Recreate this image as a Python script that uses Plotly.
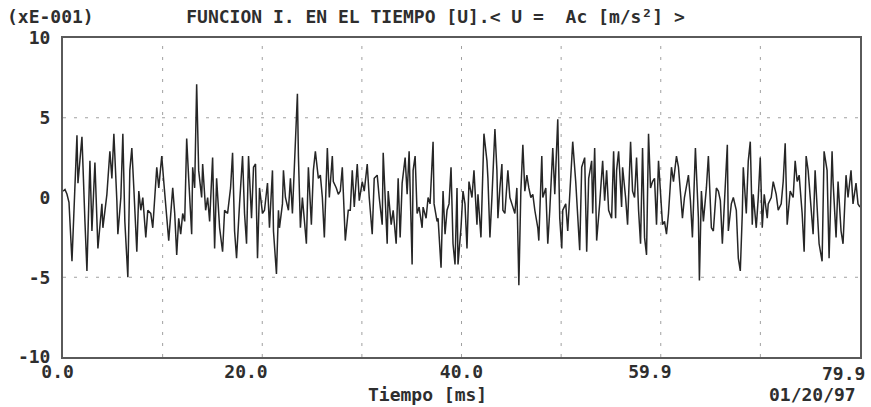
import plotly.graph_objects as go

# time in ms and amplitude (units of 1E-01 m/s^2)
t_ms = [0.0, 0.2, 0.4, 0.6, 0.9, 1.4, 1.5, 1.9, 2.2, 2.4, 2.7, 2.9, 3.2, 3.5, 3.9, 4.0, 4.4, 4.7, 4.9, 5.1,
        5.4, 5.5, 5.8, 6.0, 6.2, 6.5, 6.7, 6.9, 7.1, 7.4, 7.6, 7.8, 8.0, 8.3, 8.5, 8.8, 9.0, 9.4, 9.6, 9.9,
        10.1, 10.4, 10.6, 11.0, 11.2, 11.4, 11.6, 11.8, 12.0, 12.2, 12.4, 12.6, 12.9, 13.0, 13.2, 13.4, 13.6, 13.9, 14.0, 14.3,
        14.5, 14.7, 15.0, 15.2, 15.4, 15.7, 16.0, 16.2, 16.5, 16.8, 17.0, 17.2, 17.4, 17.7, 18.0, 18.2, 18.4, 18.6, 18.9, 19.1,
        19.3, 19.5, 19.7, 20.0, 20.2, 20.5, 20.7, 21.0, 21.1, 21.4, 21.6, 21.7, 22.0, 22.1, 22.3, 22.6, 22.8, 23.0, 23.2, 23.5,
        23.6, 23.8, 24.0, 24.2, 24.4, 24.6, 24.9, 25.1, 25.3, 25.6, 25.8, 26.0, 26.2, 26.5, 26.7, 27.0, 27.1, 27.4, 27.6, 27.8,
        28.0, 28.3, 28.6, 28.8, 29.0, 29.2, 29.5, 29.7, 30.0, 30.2, 30.5, 30.7, 31.0, 31.2, 31.5, 31.7, 32.0, 32.1, 32.3, 32.5,
        32.6, 32.9, 33.1, 33.4, 33.6, 33.8, 34.0, 34.3, 34.5, 34.7, 35.0, 35.1, 35.3, 35.5, 35.7, 36.0, 36.1, 36.4, 36.6, 36.8,
        37.1, 37.2, 37.5, 37.6, 37.9, 38.1, 38.3, 38.5, 38.7, 38.9, 39.1, 39.3, 39.5, 39.6, 39.9, 40.1, 40.3, 40.5, 40.7, 41.0,
        41.2, 41.5, 41.6, 41.9, 42.2, 42.5, 42.6, 42.8, 43.0, 43.3, 43.5, 43.6, 43.8, 44.0, 44.1, 44.3, 44.6, 44.8, 45.0, 45.3,
        45.5, 45.7, 45.9, 46.1, 46.3, 46.5, 46.7, 46.9, 47.1, 47.3, 47.6, 47.7, 48.0, 48.1, 48.4, 48.6, 48.8, 49.0, 49.1, 49.3,
        49.6, 49.8, 50.0, 50.1, 50.4, 50.6, 50.9, 51.1, 51.4, 51.6, 51.8, 52.0, 52.3, 52.5, 52.7, 53.0, 53.1, 53.3, 53.5, 53.8,
        54.1, 54.3, 54.5, 54.7, 55.0, 55.2, 55.4, 55.5, 55.7, 56.0, 56.1, 56.4, 56.6, 56.9, 57.1, 57.3, 57.5, 57.7, 57.9, 58.1,
        58.3, 58.5, 58.7, 58.9, 59.1, 59.3, 59.5, 59.7, 60.0, 60.1, 60.3, 60.5, 60.7, 61.0, 61.2, 61.5, 61.7, 61.9, 62.1, 62.3,
        62.6, 62.7, 62.9, 63.1, 63.4, 63.7, 63.8, 64.0, 64.2, 64.5, 64.7, 65.0, 65.2, 65.5, 65.7, 65.9, 66.1, 66.3, 66.6, 66.7,
        67.0, 67.2, 67.5, 67.7, 67.9, 68.1, 68.2, 68.5, 68.7, 68.9, 69.1, 69.2, 69.5, 69.7, 69.9, 70.1, 70.3, 70.6, 70.7, 71.0,
        71.2, 71.5, 71.7, 72.0, 72.2, 72.4, 72.6, 72.9, 73.2, 73.4, 73.6, 73.8, 74.1, 74.3, 74.5, 74.7, 75.0, 75.2, 75.4, 75.6,
        75.8, 76.1, 76.3, 76.6, 76.8, 77.1, 77.2, 77.5, 77.7, 78.0, 78.2, 78.5, 78.7, 79.0, 79.2, 79.5, 79.7, 79.9]

amp = [0.4, 0.5, 0.2, -0.3, -4.0, 3.9, 0.9, 3.8, -1.5, -4.6, 2.3, -2.1, 2.2, -3.2, -0.4, -1.9, 0.2, 2.9, 1.2, 4.0,
       -0.2, -2.3, 0.0, 4.0, -1.5, -5.0, 1.7, 3.1, 0.6, -3.4, 0.4, -0.8, 0.0, -2.5, -0.8, -1.0, -1.9, 1.9, 0.6, 2.6,
       1.0, -1.0, -2.7, 0.6, -1.0, -3.6, -1.3, -2.3, -1.0, -1.5, 3.7, 1.2, -2.3, 1.9, 0.6, 7.1, 1.7, 0.0, 2.1, -0.8,
       0.0, -1.5, 2.5, -3.2, 1.2, -1.9, -3.4, -0.8, -1.0, 0.6, 2.8, -2.1, -3.8, -0.4, 2.6, -1.0, -2.9, 2.6, -1.3, 1.9,
       2.1, -3.8, 0.6, -1.0, -0.8, 0.9, -1.9, 1.7, -2.1, -4.8, -0.8, -1.9, -0.4, 1.7, 0.0, -0.8, 1.2, -1.0, 2.5, 6.5,
       2.6, -1.9, 0.0, -1.3, -2.9, 1.9, -1.7, 1.7, 2.9, 1.2, 1.4, 0.0, -2.5, 3.1, 0.0, 2.6, 1.0, 0.6, 0.2, 0.4,
       1.9, -2.7, -0.8, -0.8, 1.7, -0.6, 2.1, -0.2, 1.0, 0.4, 2.1, 0.0, -2.3, 1.2, 1.4, 0.0, -1.7, 2.8, -0.4, -2.9,
       0.4, -1.7, -0.8, -2.9, 1.2, -2.5, 0.9, 2.5, 0.2, 2.9, -4.2, 1.7, 2.6, -1.0, -0.6, -1.9, -0.6, -1.3, 0.0, -0.4,
       3.5, -0.4, -1.5, -1.3, -4.4, 0.4, -2.3, -0.8, -0.4, 1.9, -2.9, -4.2, 0.6, -4.2, -1.9, 0.4, -0.4, -3.2, 1.0, 0.0,
       1.7, -1.7, 0.2, -2.5, 4.0, 2.3, 1.2, -2.5, 0.0, 4.3, 1.7, -1.3, 0.6, 2.1, -0.8, -1.0, 1.7, 0.0, -0.4, -1.0,
       0.6, -5.5, 0.4, 3.3, 0.4, 1.4, 0.6, 0.0, 0.2, -0.8, -1.9, -2.7, 2.6, 0.0, 0.6, -2.9, -0.8, 2.1, 3.1, 0.2,
       4.9, -1.3, -3.2, -0.8, -0.4, -2.1, 1.0, 3.5, 1.0, -1.5, -3.3, 1.9, 2.5, -3.4, 1.2, 2.3, -1.0, 3.1, -2.7, -0.4,
       2.3, -0.2, 1.7, -0.8, -1.3, 2.9, -1.3, 1.7, 2.9, -0.6, 1.9, 0.0, -1.7, 3.5, 0.4, 0.0, 2.5, -0.8, -2.9, 3.1,
       -2.5, -3.6, 4.0, 0.6, 1.0, 1.2, -1.7, 2.3, -1.0, -1.7, -1.5, -2.3, -1.0, 1.9, 1.0, 2.6, 1.9, 0.0, -1.3, 0.0,
       1.2, 1.4, -0.2, -2.5, 3.1, -1.3, -5.2, 0.4, -1.5, 0.6, 2.6, -1.9, -2.1, 0.6, 0.4, -0.2, -2.9, 0.0, 3.3, -2.1,
       -0.4, 0.0, -0.8, -3.8, -4.6, -1.0, 1.9, -1.0, 2.3, 3.5, -1.7, 0.2, -1.9, 0.0, 2.5, -1.9, 0.2, -1.3, -0.4, 0.0,
       1.0, 0.2, -0.8, -0.4, 1.0, 3.4, -1.7, 0.4, 0.0, 2.3, 1.0, 1.4, -1.0, -3.4, 2.6, 1.7, -0.4, -2.3, 1.7, -1.0,
       -2.9, -4.0, 2.9, 1.7, -3.8, 2.9, 1.0, -2.5, 1.0, -2.1, -2.9, 1.4, 0.0, 1.7, -0.4, 0.9, -0.4, -0.6]

NB = "\u00a0"
x_tick_vals = [0.0, 19.975, 39.95, 59.925]
x_tick_text = ["0.0" + NB, "20.0" + NB * 3, "40.0", "59.9" + NB * 2]
x_end_val = 79.9
x_end_text = "79.9"
y_tick_vals = [-10, -5, 0, 5, 10]
y_tick_text = ["-10", "-5", "0", "5", "10"]
y_grid_levels = [-5, 5]
x_grid_levels = [9.9875, 19.975, 29.9625, 39.95, 49.9375, 59.925, 69.9125]

FONT = "DejaVu Sans Mono"
TXT = "#2e2e2e"
SZ = 18


def fnt():
    return dict(family=FONT, size=SZ, color=TXT, weight="bold")


fig = go.Figure(go.Scatter(x=t_ms, y=amp, mode="lines",
                           line=dict(color="#262626", width=1.5), hoverinfo="skip"))

for gx in x_grid_levels:
    fig.add_vline(x=gx, line=dict(color="#a0a0a0", width=1, dash="3px,8px"), layer="below")
for gy in y_grid_levels:
    fig.add_hline(y=gy, line=dict(color="#a0a0a0", width=1, dash="3px,8px"), layer="below")

fig.update_layout(
    width=871, height=407,
    margin=dict(l=63, r=11, t=38, b=50, autoexpand=False),
    paper_bgcolor="white", plot_bgcolor="white",
    showlegend=False,
    font=fnt(),
    title=dict(text="FUNCION I. EN EL TIEMPO [U].&lt; U =\u00a0\u00a0Ac [m/s²] &gt;",
               x=(435.5) / 871, xref="container", xanchor="center",
               y=1 - 17 / 407, yref="container", yanchor="middle",
               font=fnt()),
    xaxis=dict(range=[0, 79.9], tickvals=x_tick_vals, ticktext=x_tick_text,
               showline=True, mirror=True, linecolor="#5a5a5a", linewidth=2,
               showgrid=False, zeroline=False, ticks="", ticklabelstandoff=-3,
               automargin=False, tickfont=fnt()),
    yaxis=dict(range=[-10, 10], tickvals=y_tick_vals, ticktext=y_tick_text,
               showline=True, mirror=True, linecolor="#5a5a5a", linewidth=2,
               showgrid=False, zeroline=False, ticks="", ticklabelstandoff=7,
               automargin=False, tickfont=fnt()),
    annotations=[
        dict(text="(xE-001)", xref="paper", yref="paper", x=(5 - 63) / 797, y=1 + (38 - 17) / 319,
             xanchor="left", yanchor="middle", showarrow=False, font=fnt()),
        dict(text=x_end_text, xref="x", yref="paper", x=x_end_val, xshift=7, y=-(373 - 357) / 319,
             xanchor="right", yanchor="middle", showarrow=False, font=fnt()),
        dict(text="Tiempo [ms]", xref="paper", yref="paper", x=(427 - 63) / 797, y=-(394 - 357) / 319,
             xanchor="center", yanchor="middle", showarrow=False, font=fnt()),
        dict(text="01/20/97", xref="paper", yref="paper", x=(858 - 63) / 797, y=-(394 - 357) / 319,
             xanchor="right", yanchor="middle", showarrow=False, font=fnt()),
    ],
)

fig.write_html("out.html", config={"displayModeBar": False},
               post_script="document.body.style.margin='0';")
